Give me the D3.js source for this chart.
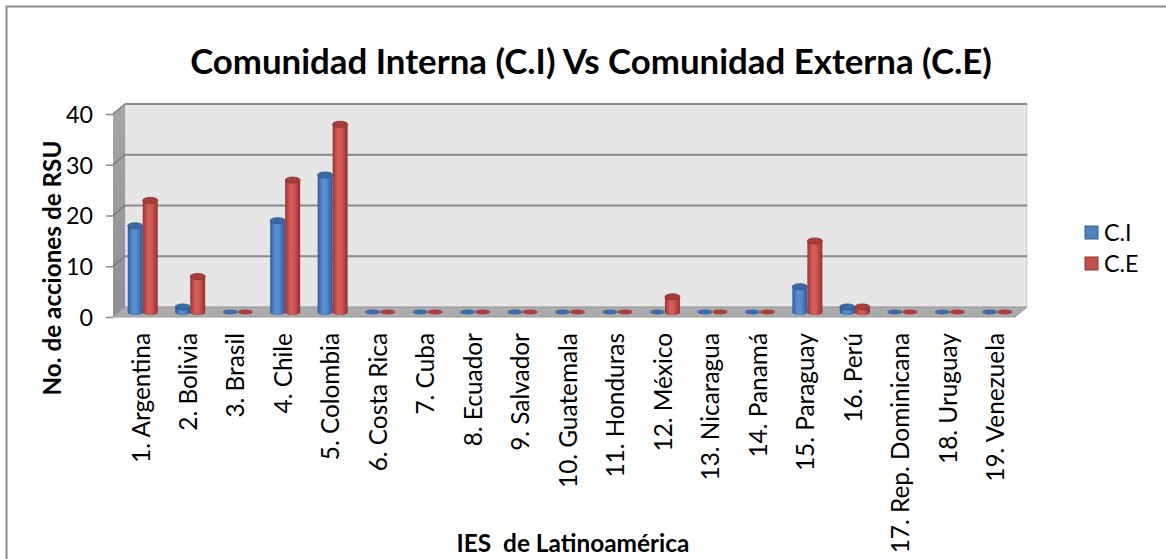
<!DOCTYPE html>
<html>
<head>
<meta charset="utf-8">
<script src="https://cdn.jsdelivr.net/npm/d3@7"></script>
<style>
  body { margin: 0; background: #fff; }
  svg text { font-family: Lato, "Open Sans", sans-serif; fill: #000; }
</style>
</head>
<body>
<div id="chart"></div>
<script>
// data
const categories = ["1. Argentina", "2. Bolivia", "3. Brasil", "4. Chile", "5. Colombia",
  "6. Costa Rica", "7. Cuba", "8. Ecuador", "9. Salvador", "10. Guatemala", "11. Honduras",
  "12. México", "13. Nicaragua", "14. Panamá", "15. Paraguay", "16. Perú",
  "17. Rep. Dominicana", "18. Uruguay", "19. Venezuela"];
const ciValues = [17, 1, 0, 18, 27, 0, 0, 0, 0, 0, 0, 0, 0, 0, 5, 1, 0, 0, 0];
const ceValues = [22, 7, 0, 26, 37, 0, 0, 0, 0, 0, 0, 3, 0, 0, 14, 1, 0, 0, 0];
const seriesNames = ["C.I", "C.E"];
const yTicks = [0, 10, 20, 30, 40];

const W = 1166, H = 559;
const svg = d3.select("#chart").append("svg").attr("width", W).attr("height", H);

// size text so it spans a given length
function fit(sel, target) {
  const n = sel.node();
  const len = n.getComputedTextLength();
  const fs = parseFloat(sel.style("font-size"));
  sel.style("font-size", (fs * target / len) + "px");
  return sel;
}

// outer frame (cut off on right and bottom in the reference)
svg.append("rect").attr("x", 6.5).attr("y", 6.5).attr("width", W + 20).attr("height", H + 20)
  .attr("fill", "#fff").attr("stroke", "#8c8c8c").attr("stroke-width", 2);

// 3d geometry
const dx = 12, dy = -10;
const left = 113, right = 1015;
const x = d3.scaleBand().domain(categories).range([left, right]);
const yFront = d3.scaleLinear().domain([0, 40]).range([317, 114]);
const yBack = v => yFront(v) + dy;
const yMid = v => yFront(v) + dy / 2;

const defs = svg.append("defs");
function hGrad(id, stops) {
  const g = defs.append("linearGradient").attr("id", id).attr("x1", 0).attr("x2", 1).attr("y1", 0).attr("y2", 0);
  stops.forEach(s => g.append("stop").attr("offset", s[0]).attr("stop-color", s[1]));
}
hGrad("gBlue", [[0, "#2f5f9c"], [0.35, "#5b8fd3"], [0.6, "#5489cc"], [1, "#2e5a94"]]);
hGrad("gRed", [[0, "#9a3431"], [0.35, "#d65f5b"], [0.6, "#cf5753"], [1, "#95302d"]]);
const vGrad = defs.append("linearGradient").attr("id", "gSide").attr("x1", 0).attr("x2", 0).attr("y1", 0).attr("y2", 1);
vGrad.append("stop").attr("offset", 0).attr("stop-color", "#a6a6a6");
vGrad.append("stop").attr("offset", 1).attr("stop-color", "#8f8f8f");

// back wall
svg.append("rect").attr("x", left + dx).attr("y", yBack(40)).attr("width", right - left)
  .attr("height", yBack(0) - yBack(40)).attr("fill", "#e6e6e6").attr("stroke", "#d0d0d0");
// side wall
svg.append("polygon")
  .attr("points", [[left, yFront(40)], [left + dx, yBack(40)], [left + dx, yBack(0)], [left, yFront(0)]].join(" "))
  .attr("fill", "url(#gSide)");
// floor
svg.append("polygon")
  .attr("points", [[left, yFront(0)], [left + dx, yBack(0)], [right + dx, yBack(0)], [right, yFront(0)]].join(" "))
  .attr("fill", "#ababab").attr("stroke", "#9a9a9a");

// gridlines
yTicks.filter(d => d > 0).forEach(v => {
  svg.append("line").attr("x1", left + dx).attr("x2", right + dx).attr("y1", yBack(v)).attr("y2", yBack(v))
    .attr("stroke", "#8a8a8a").attr("stroke-width", 2);
  svg.append("line").attr("x1", left).attr("x2", left + dx).attr("y1", yFront(v)).attr("y2", yBack(v))
    .attr("stroke", "#7a7a7a").attr("stroke-width", 1.5);
});

// y axis
const yAxis = svg.append("g").attr("transform", `translate(${left},0)`)
  .call(d3.axisLeft(yFront).tickValues(yTicks).tickSize(7).tickPadding(13));
yAxis.select(".domain").remove();
yAxis.selectAll(".tick line").attr("stroke", "#8a8a8a").attr("stroke-width", 1.5);
yAxis.selectAll(".tick text").style("font-size", "20px").attr("dy", "0.36em");
fit(yAxis.select(".tick:last-of-type text"), 27);
const tfs = yAxis.select(".tick:last-of-type text").style("font-size");
yAxis.selectAll(".tick text").style("font-size", tfs);

// cylinders
const cw = 15, ry = 3;
const series = [ciValues, ceValues];
const colors = [
  { body: "url(#gBlue)", top: "#3b6aa6", edge: "#2c5689", base: "#3e6ca8" },
  { body: "url(#gRed)", top: "#a63e3b", edge: "#8a2d2a", base: "#a83f3c" }
];
categories.forEach((c, i) => {
  const cx0 = x(c) + x.bandwidth() / 2 + dx / 2;
  series.forEach((vals, s) => {
    const v = vals[i];
    const cx = cx0 + (s === 0 ? -cw / 2 : cw / 2);
    const g = svg.append("g");
    const yb = yMid(0), yt = yMid(v);
    const col = colors[s];
    if (v > 0) {
      g.append("ellipse").attr("cx", cx).attr("cy", yb).attr("rx", cw / 2).attr("ry", ry).attr("fill", col.edge);
      g.append("rect").attr("x", cx - cw / 2).attr("y", yt).attr("width", cw).attr("height", yb - yt)
        .attr("fill", col.body);
      g.append("ellipse").attr("cx", cx).attr("cy", yb).attr("rx", cw / 2).attr("ry", ry).attr("fill", col.body);
      g.append("ellipse").attr("cx", cx).attr("cy", yt).attr("rx", cw / 2).attr("ry", ry)
        .attr("fill", col.top).attr("stroke", col.edge).attr("stroke-width", 0.8);
    } else {
      g.append("ellipse").attr("cx", cx).attr("cy", yb).attr("rx", cw / 2).attr("ry", ry - 0.5).attr("fill", col.base);
    }
  });
});

// x labels
const xl = svg.append("g");
categories.forEach(c => {
  xl.append("text")
    .attr("transform", `translate(${x(c) + x.bandwidth() / 2 + 4},333) rotate(-90)`)
    .attr("text-anchor", "end").attr("dy", "0.36em")
    .style("font-size", "20px").text(c);
});
fit(xl.select("text"), 130);
xl.selectAll("text").style("font-size", xl.select("text").style("font-size"));

// title
const title = svg.append("text").attr("x", 591).attr("y", 74).attr("text-anchor", "middle")
  .style("font-size", "30px").style("font-weight", "bold")
  .text("Comunidad Interna (C.I) Vs Comunidad Externa (C.E)");
fit(title, 802);

// axis titles
const yt = svg.append("text").attr("transform", "translate(52,268) rotate(-90)").attr("text-anchor", "middle")
  .attr("dy", "0.36em")
  .style("font-size", "18px").style("font-weight", "bold").text("No. de acciones de RSU");
fit(yt, 255);
const xt = svg.append("text").attr("x", 573).attr("y", 552).attr("text-anchor", "middle")
  .style("font-size", "18px").style("font-weight", "bold").style("white-space", "pre")
  .text("IES  de Latinoamérica");
fit(xt, 233);

// legend
const leg = svg.append("g").attr("transform", "translate(1085,226)");
seriesNames.forEach((n, i) => {
  const row = leg.append("g").attr("transform", `translate(0,${i * 31})`);
  row.append("rect").attr("width", 13).attr("height", 13)
    .attr("fill", i === 0 ? "#4f81bd" : "#c0504d").attr("stroke", i === 0 ? "#385d8a" : "#8c3836");
  row.append("text").attr("x", 19).attr("y", 7).attr("dy", "0.36em").style("font-size", tfs).text(n);
});
</script>
</body>
</html>
